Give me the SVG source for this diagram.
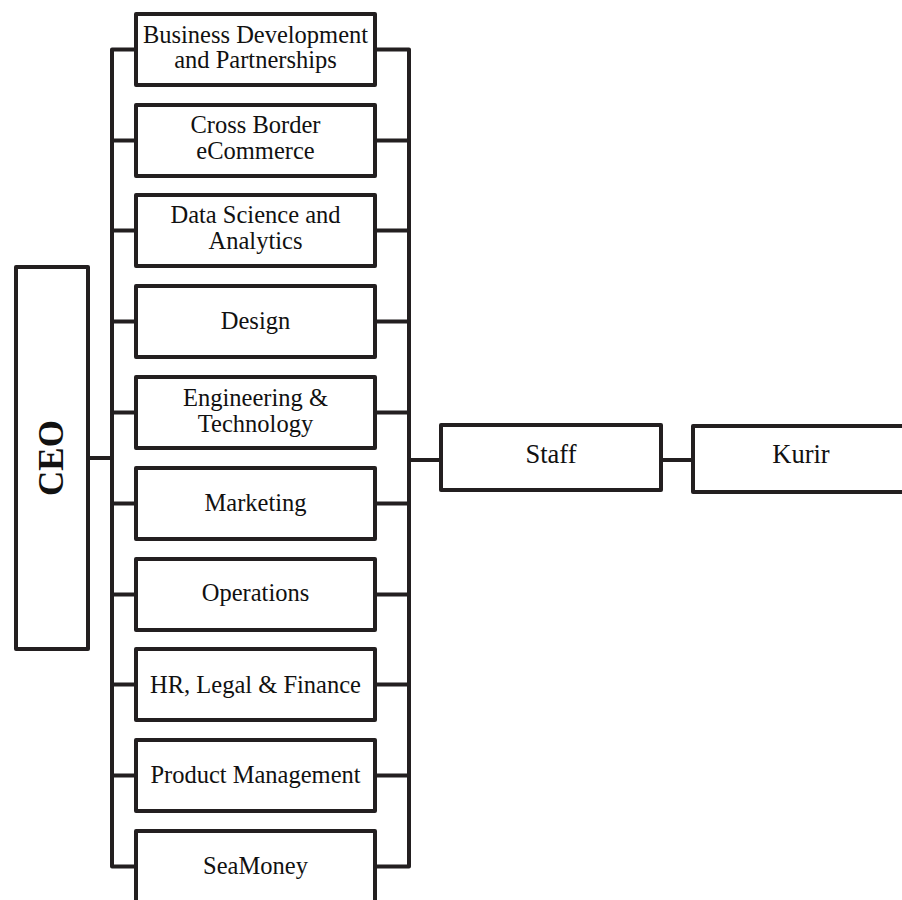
<svg xmlns="http://www.w3.org/2000/svg" width="902" height="900" viewBox="0 0 902 900">
<style>
.box{fill:#fff;stroke:#231f20;stroke-width:4;stroke-linejoin:round}
.ln{fill:none;stroke:#231f20;stroke-width:4;stroke-linejoin:round}
text{font-family:"Liberation Serif","Times New Roman",serif;fill:#111;text-anchor:middle}
.t{font-size:24.5px}
.s{font-size:26.5px}
.ceo{font-size:35px;font-weight:bold}
</style>
<rect x="0" y="0" width="902" height="900" fill="#fff"/>
<g id="connectors">
<path class="ln" d="M136 49.5 H112 V866.5 H136"/>
<path class="ln" d="M375 49.5 H409 V866.5 H375"/>
<path class="ln" d="M88 458 H112"/>
<path class="ln" d="M112 140.5 H136 M112 230.5 H136 M112 321.5 H136 M112 412.5 H136 M112 503.5 H136 M112 594.5 H136 M112 684.5 H136 M112 775.5 H136"/>
<path class="ln" d="M375 140.5 H409 M375 230.5 H409 M375 321.5 H409 M375 412.5 H409 M375 503.5 H409 M375 594.5 H409 M375 684.5 H409 M375 775.5 H409"/>
<path class="ln" d="M409 460 H441"/>
<path class="ln" d="M661 460 H693"/>
</g>
<g id="ceo">
<rect class="box" x="16" y="267" width="72" height="382"/>
<text class="ceo" transform="translate(63,458) rotate(-90)" x="0" y="0">CEO</text>
</g>
<g id="bizdev">
<rect class="box" x="136" y="14" width="239" height="71"/>
<text class="t" x="255.5" y="43">Business Development</text>
<text class="t" x="255.5" y="68">and Partnerships</text>
</g>
<g id="crossborder">
<rect class="box" x="136" y="105" width="239" height="71"/>
<text class="t" x="255.5" y="133">Cross Border</text>
<text class="t" x="255.5" y="159">eCommerce</text>
</g>
<g id="datascience">
<rect class="box" x="136" y="195" width="239" height="71"/>
<text class="t" x="255.5" y="223">Data Science and</text>
<text class="t" x="255.5" y="249">Analytics</text>
</g>
<g id="design">
<rect class="box" x="136" y="286" width="239" height="71"/>
<text class="t" x="255.5" y="328.5">Design</text>
</g>
<g id="engineering">
<rect class="box" x="136" y="377" width="239" height="71"/>
<text class="t" x="255.5" y="406">Engineering &amp;</text>
<text class="t" x="255.5" y="432">Technology</text>
</g>
<g id="marketing">
<rect class="box" x="136" y="468" width="239" height="71"/>
<text class="t" x="255.5" y="510.5">Marketing</text>
</g>
<g id="operations">
<rect class="box" x="136" y="559" width="239" height="71"/>
<text class="t" x="255.5" y="601">Operations</text>
</g>
<g id="hr">
<rect class="box" x="136" y="649" width="239" height="71"/>
<text class="t" x="255.5" y="692.5">HR, Legal &amp; Finance</text>
</g>
<g id="product">
<rect class="box" x="136" y="740" width="239" height="71"/>
<text class="t" x="255.5" y="783">Product Management</text>
</g>
<g id="seamoney">
<rect class="box" x="136" y="831" width="239" height="71"/>
<text class="t" x="255.5" y="874">SeaMoney</text>
</g>
<g id="staff">
<rect class="box" x="441" y="425" width="220" height="65"/>
<text class="s" x="551" y="463">Staff</text>
</g>
<g id="kurir">
<rect class="box" x="693" y="426" width="215" height="66"/>
<text class="s" x="801" y="463">Kurir</text>
</g>
</svg>
